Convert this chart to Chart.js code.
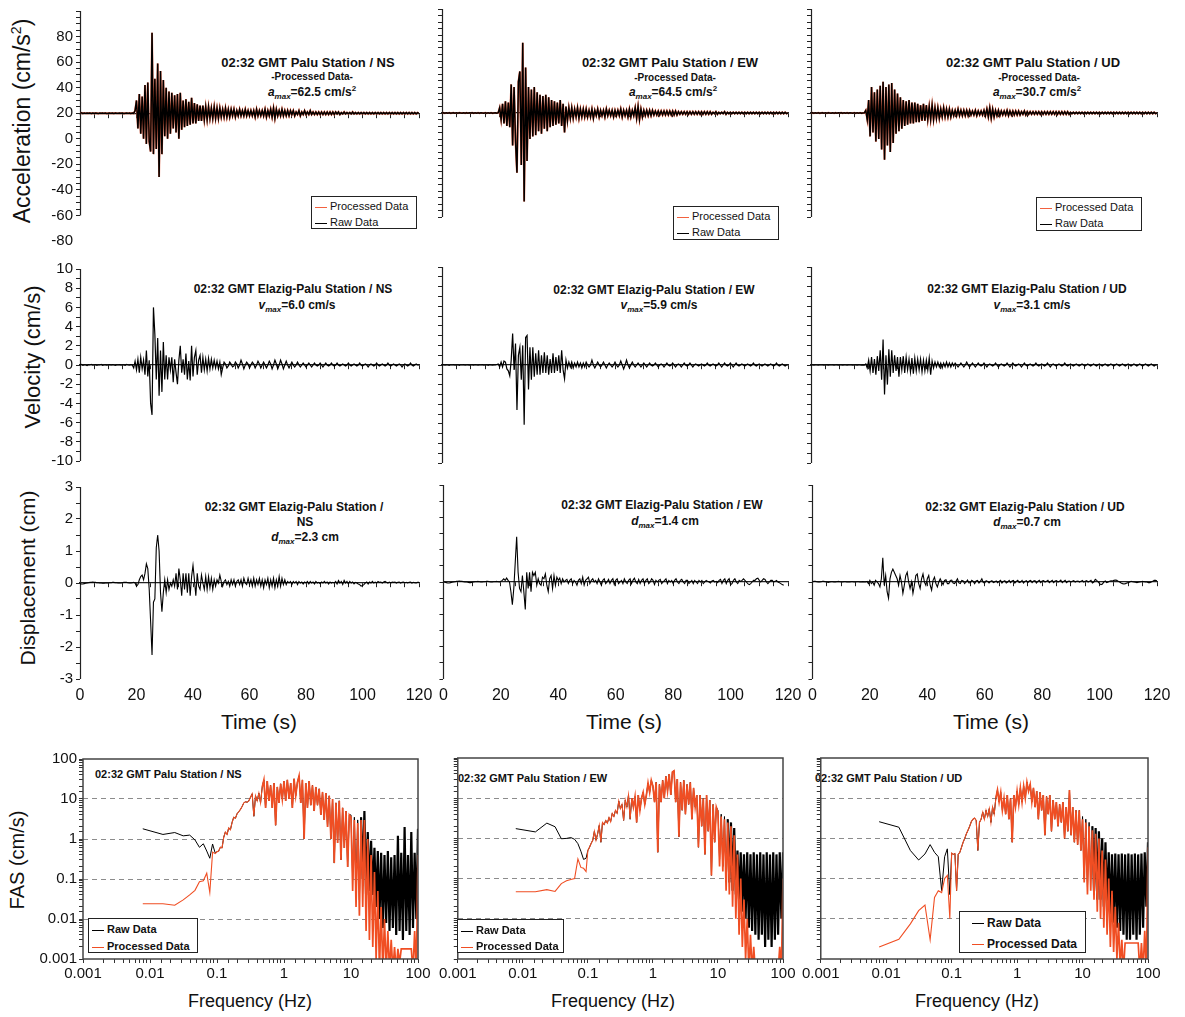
<!DOCTYPE html>
<html><head><meta charset="utf-8">
<script src="https://cdn.jsdelivr.net/npm/chart.js@4.4.1/dist/chart.umd.min.js"></script>
<style>
html,body{margin:0;padding:0;background:#fff;}
#page{position:relative;width:1185px;height:1017px;overflow:hidden;font-family:'Liberation Sans',Arial,Helvetica,sans-serif;color:#111;}
#page canvas{position:absolute;}
.t{position:absolute;white-space:nowrap;transform:translate(-50%,-50%);}
.tl{position:absolute;white-space:nowrap;transform:translateY(-50%);}
.b{font-weight:bold;}
.ax{position:absolute;white-space:nowrap;transform:translate(-50%,-50%) rotate(-90deg);}
sub,sup{font-size:8px;line-height:0;}
.lg{position:absolute;border:1px solid #222;background:#fff;box-sizing:border-box;}
.lg div{position:absolute;left:3px;white-space:nowrap;transform:translateY(-50%);}
.lg span{display:inline-block;width:12px;height:0;border-top:1.6px solid;vertical-align:middle;margin-right:3px;}
</style></head>
<body><div id="page">
<!-- axis titles -->
<div class="ax" style="left:22px;top:121px;font-size:23px">Acceleration (cm/s<sup style="font-size:14px">2</sup>)</div>
<div class="ax" style="left:33px;top:357px;font-size:22px">Velocity (cm/s)</div>
<div class="ax" style="left:28px;top:578px;font-size:21px">Displacement (cm)</div>
<div class="ax" style="left:17px;top:860px;font-size:20px">FAS (cm/s)</div>
<div class="t" style="left:259px;top:722px;font-size:21px">Time (s)</div>
<div class="t" style="left:624px;top:722px;font-size:21px">Time (s)</div>
<div class="t" style="left:991px;top:722px;font-size:21px">Time (s)</div>
<div class="t" style="left:250px;top:1001px;font-size:18px">Frequency (Hz)</div>
<div class="t" style="left:613px;top:1001px;font-size:18px">Frequency (Hz)</div>
<div class="t" style="left:977px;top:1001px;font-size:18px">Frequency (Hz)</div>
<!-- row 1 notes -->
<div class="t b" style="left:308px;top:62px;font-size:13px">02:32 GMT Palu Station / NS</div>
<div class="t b" style="left:312px;top:76px;font-size:10px">-Processed Data-</div>
<div class="t b" style="left:312px;top:92px;font-size:12px"><i>a<sub>max</sub></i>=62.5 cm/s<sup>2</sup></div>
<div class="t b" style="left:670px;top:62px;font-size:13px">02:32 GMT Palu Station / EW</div>
<div class="t b" style="left:675px;top:77px;font-size:10px">-Processed Data-</div>
<div class="t b" style="left:673px;top:92px;font-size:12px"><i>a<sub>max</sub></i>=64.5 cm/s<sup>2</sup></div>
<div class="t b" style="left:1033px;top:62px;font-size:13px">02:32 GMT Palu Station / UD</div>
<div class="t b" style="left:1039px;top:77px;font-size:10px">-Processed Data-</div>
<div class="t b" style="left:1037px;top:92px;font-size:12px"><i>a<sub>max</sub></i>=30.7 cm/s<sup>2</sup></div>
<!-- row 2 notes -->
<div class="t b" style="left:293px;top:289px;font-size:12px">02:32 GMT Elazig-Palu Station / NS</div>
<div class="t b" style="left:297px;top:305px;font-size:12px"><i>v<sub>max</sub></i>=6.0 cm/s</div>
<div class="t b" style="left:654px;top:290px;font-size:12px">02:32 GMT Elazig-Palu Station / EW</div>
<div class="t b" style="left:659px;top:305px;font-size:12px"><i>v<sub>max</sub></i>=5.9 cm/s</div>
<div class="t b" style="left:1027px;top:289px;font-size:12px">02:32 GMT Elazig-Palu Station / UD</div>
<div class="t b" style="left:1032px;top:305px;font-size:12px"><i>v<sub>max</sub></i>=3.1 cm/s</div>
<!-- row 3 notes -->
<div class="t b" style="left:294px;top:507px;font-size:12px">02:32 GMT Elazig-Palu Station /</div>
<div class="t b" style="left:305px;top:522px;font-size:12px">NS</div>
<div class="t b" style="left:305px;top:537px;font-size:12px"><i>d<sub>max</sub></i>=2.3 cm</div>
<div class="t b" style="left:662px;top:505px;font-size:12px">02:32 GMT Elazig-Palu Station / EW</div>
<div class="t b" style="left:665px;top:521px;font-size:12px"><i>d<sub>max</sub></i>=1.4 cm</div>
<div class="t b" style="left:1025px;top:507px;font-size:12px">02:32 GMT Elazig-Palu Station / UD</div>
<div class="t b" style="left:1027px;top:522px;font-size:12px"><i>d<sub>max</sub></i>=0.7 cm</div>
<!-- FAS titles -->
<div class="tl b" style="left:95px;top:774px;font-size:11px">02:32 GMT Palu Station / NS</div>
<div class="tl b" style="left:458px;top:778px;font-size:11px">02:32 GMT Palu Station / EW</div>
<div class="tl b" style="left:815px;top:778px;font-size:11px">02:32 GMT Palu Station / UD</div>
</div>
<script>
// ---------------- DATA ----------------
const timeStepS = 0.5; // sample spacing of the arrays below (s), starting at 0 s
const timeTickLabels = [0, 20, 40, 60, 80, 100, 120];

const accelNS = [
20,20.3,19.8,20.2,19.9,20.1,20,20.2,19.8,20.1,19.9,20.2,20,19.8,20.1,20,20.2,19.9,20.1,19.8,
20,20.2,19.9,20.1,19.8,20.2,20,19.9,20.1,20,20.2,19.8,20,20.1,19.9,20.2,19.8,20.1,19.9,22,
30,8,35,4,33,0,42,-4,44,-2,-10,83,-12,47,-8,59,-30,53,-12,46,
2,40,0,37,4,36,8,34,5,35,0,36,7,30,9,31,10,29,11,32,
12,28,12,27,14,26,14,26,15,25,15,25,16,24,16,25,16,24,16,24,
17,23,17,24,17,23,17,23,18,23,17,22,18,23,18,22,18,23,18,22,
18,22,18,22,17,23,18,22,18,22,18,23,17,22,18,23,17,24,16,23,
18,22,18,23,18,22,18,22,18,22,19,22,18,21,19,22,18,21,19,22,
19,21,19,22,19,21,19,21,19,21,19,21,19,21,19,21,19,21,19,21,
19,21,19.5,21,19,20.5,19.5,21,19.5,20.5,19.5,20.5,19.5,21,19.5,20.5,19.5,20.5,19.5,20.5,
19.5,20.5,19.5,20.5,19.5,20.5,19.5,20.5,19.5,20.5,19.5,20.5,19.5,20.5,19.5,20.5,19.5,20.5,19.5,20.5,
19.5,20.5,19.5,20.5,19.5,20.5,19.5,20.5,19.5,20.5,19.5,20.5,19.5,20.5,19.5,20.5,19.5,20.5,19.5,20.5,
20];
const accelEW = [
20,20.2,19.8,20.1,19.9,20.2,19.8,20,20.2,19.9,20.1,19.8,20.2,20,19.9,20.1,19.8,20.2,19.9,20.1,
20,20.2,19.8,20.1,19.9,20.2,19.8,20.1,20,19.9,20.2,19.8,20.1,19.9,20.2,19.8,20,20.1,19.9,20.2,
24,15,27,12,29,10,28,9,42,-5,40,-2,-26,44,52,-20,74,-48,55,-17,
40,0,38,2,40,3,36,6,34,4,33,8,34,6,32,9,30,10,29,11,
28,12,30,10,27,5,25,14,24,16,24,16,23,17,24,16,23,17,23,17,
23,17,22,17,23,16,22,18,23,17,22,18,22,17,23,18,22,18,22,17,
22,18,22,18,23,17,22,18,22,17,23,17,22,18,24,16,25,15,23,17,
22,18,22,18,22,18,22,18.5,21.5,18.5,21.5,18.5,21.5,18.5,21.5,18.5,21.5,18.5,21.5,18.5,
21.5,18.5,21.5,18.5,21,19,21,19,21,19,21,19,21,19,21,19,21,19,21,19,
21,19,21,19,21,19,21,19,20.5,19.5,21,19,20.5,19.5,20.5,19.5,21,19,20.5,19.5,
20.5,19.5,20.5,19.5,20.5,19.5,20.5,19.5,20.5,19.5,20.5,19.5,20.5,19.5,20.5,19.5,20.5,19.5,20.5,19.5,
20.5,19.5,20.5,19.5,20.5,19.5,20.5,19.5,20.5,19.5,20.5,19.5,20.5,19.5,20.5,19.5,20.5,19.5,20.5,19.5,
20];
const accelUD = [
20,20.2,19.8,20.1,19.9,20.2,19.8,20,20.2,19.9,20.1,19.8,20.2,20,19.9,20.1,19.8,20.2,19.9,20.1,
20,20.2,19.8,20.1,19.9,20.2,19.8,20.1,20,19.9,20.2,19.8,20.1,19.9,20.2,19.8,20,20.1,22,15,
30,2,40,5,36,-2,38,0,41,-8,44,-16,40,-5,42,-10,43,-3,38,4,
35,6,32,8,30,10,29,11,30,12,28,12,28,13,27,13,26,14,27,14,
26,15,25,15,26,15,24,16,24,16,23,17,24,17,23,17,23,17,22,18,
22,18,23,18,22,18,22,18,22,18,22,18.5,21.5,18.5,22,18,21.5,18.5,21.5,18.5,
22,18,23,17,24,16,23,17,22,18,22,18,21.5,18.5,21.5,18.5,22,18,21.5,18.5,
21.5,18.5,21.5,18.5,21.5,18.5,21,19,21.5,18.5,21,19,21,19,21,19,21,19,21,19,
21,19,21,19,21,19,21,19,21,19,21,19,21,19,21,19,21,19,21,19,
20.5,19.5,20.5,19.5,20.5,19.5,20.5,19.5,20.5,19.5,20.5,19.5,20.5,19.5,20.5,19.5,20.5,19.5,20.5,19.5,
20.5,19.5,20.5,19.5,20.5,19.5,20.5,19.5,20.5,19.5,20.5,19.5,20.5,19.5,20.5,19.5,20.5,19.5,20.5,19.5,
20.5,19.5,20.5,19.5,20.5,19.5,20.5,19.5,20.5,19.5,20.5,19.5,20.5,19.5,20.5,19.5,20.5,19.5,20.5,19.5,
20];

const velNS = [
0,0.05,-0.03,0.02,0,-0.05,0.03,0,0.05,-0.02,0,0.03,-0.04,0.02,0,0.05,-0.03,0,0.02,-0.02,
0,0.03,-0.02,0.04,0,-0.03,0.02,0,0.03,-0.02,0,0.02,-0.03,0.05,0,-0.02,0.03,0,-0.3,0.4,
-0.5,0.6,-0.8,0.8,-0.4,0.5,-1.0,1.5,-1.2,0.5,-4.0,-5.2,6.0,3.2,-1.5,2.8,-3.2,1.5,-2.8,2.4,
-1.5,1.0,-1.5,0.8,-0.5,0.8,-1.8,0.6,-0.8,-2.0,0.5,2.0,-0.8,0.6,-1.0,1.2,-1.5,0.4,-1.6,2.0,
-1.2,0.8,1.5,-1.0,0.5,1.0,-0.8,0.8,-0.5,0.6,-0.6,0.7,-0.4,0.6,-0.3,0.5,-0.3,0.4,-0.4,0.3,
-1.0,-0.3,0.3,0.1,-0.3,-0.1,0.3,0.1,-0.2,-0.1,0.3,0.1,-0.3,0,0.5,0.1,-0.4,0,0.3,0.1,
-0.3,0,0.3,0.1,-0.3,0,0.4,0.1,-0.3,0,0.3,0,-0.3,0,0.4,0.1,-0.4,0,0.5,0.1,
-0.4,0,0.5,0.1,-0.4,0,0.4,0,-0.3,0,0.3,0,-0.2,0,0.3,0,-0.2,0,0.2,0,
-0.2,0,0.2,0,-0.2,0,0.2,0,-0.1,0,0.2,0,-0.2,0,0.2,0,-0.1,0,0.2,0,
-0.1,0,0.2,0,-0.1,0,0.1,0,-0.1,0,0.2,0,-0.1,0,0.1,0,-0.1,0,0.2,0,
-0.1,0,0.1,0,-0.2,0,0.1,0,-0.1,0,0.2,0,-0.1,0,0.1,0,-0.1,0,0.2,0,
-0.1,0,0.1,0,-0.1,0,0.1,0,-0.2,0,0.1,0,-0.1,0,0.2,0,-0.1,0,0.1,0,
0];
const velEW = [
0,0.03,-0.02,0.02,0,-0.03,0.02,0,0.03,-0.02,0,0.02,-0.03,0.02,0,0.03,-0.02,0,0.02,-0.02,
0,0.02,-0.02,0.03,0,-0.02,0.02,0,0.03,-0.02,0,0.02,-0.03,0.03,0,-0.02,0.02,0,0.05,0.1,
-0.2,0.3,-0.2,0.4,0.3,-0.4,-0.6,-1.1,0.5,3.2,-0.5,2.2,-4.6,1.0,1.8,-1.5,2.0,-6.1,2.8,3.0,
-2.5,1.8,-1.5,1.8,-1.2,1.2,-1.0,1.5,-1.0,1.0,-0.8,1.3,-0.8,1.0,-1.0,0.6,-0.8,1.2,-0.8,0.8,
-0.6,1.0,-0.8,1.5,-0.5,-1.4,0.5,-0.3,0.3,-0.2,0.3,-0.3,0.2,-0.2,0.3,-0.2,0.2,-0.3,0.2,-0.2,
0.3,0,-0.2,0,0.5,0,-0.3,0,0.3,0,-0.2,0,0.3,0,-0.3,0,0.2,0,-0.2,0,
0.3,0,-0.2,0,0.4,0,-0.4,0,0.5,0,-0.3,0,0.3,0,-0.2,0,0.2,0,-0.2,0,
0.2,0,-0.2,0,0.2,0,-0.1,0,0.2,0,-0.2,0,0.1,0,-0.2,0,0.2,0,-0.1,0,
0.2,0,-0.2,0,0.1,0,-0.2,0,0.2,0,-0.1,0,0.2,0,-0.2,0,0.1,0,-0.1,0,
0.1,0,-0.1,0,0.2,0,-0.1,0,0.1,0,-0.1,0,0.2,0,-0.2,0,0.2,0,-0.1,0,
0.2,0,-0.2,0,0.2,0,-0.1,0,0.1,0,-0.1,0,0.1,0,-0.1,0,0.2,0,-0.1,0,
0.1,0,-0.1,0,0.1,0,-0.1,0,0.1,0,-0.1,0,0.2,0,-0.1,0,0.1,0,-0.1,0,
0];
const velUD = [
0,0.02,-0.02,0.02,0,-0.02,0.02,0,0.02,-0.02,0,0.02,-0.02,0.02,0,0.02,-0.02,0,0.02,-0.02,
0,0.02,-0.02,0.02,0,-0.02,0.02,0,0.02,-0.02,0,0.02,-0.02,0.02,0,-0.02,0.02,0,0.1,-0.3,
0.5,-0.6,0.8,-0.8,0.6,-1.0,0.9,-0.6,1.5,-1.5,2.6,-3.0,1.0,-2.0,1.6,-1.2,1.5,-0.8,1.0,-0.6,
0.8,-1.2,0.8,-0.5,0.9,-0.8,0.8,-0.5,0.6,-0.7,0.7,-0.9,0.7,-0.6,0.6,-0.5,0.6,-0.7,0.5,-0.6,
0.5,-0.5,0.7,-1.0,0.4,-0.3,0.3,-0.2,0.3,-0.2,0.2,-0.3,0.2,-0.2,0.3,-0.2,0.2,-0.2,0.2,-0.1,
0.2,0,-0.2,0,0.2,0,-0.2,0,0.3,0,-0.2,0,0.2,0,-0.2,0,0.2,0,-0.1,0,
0.2,0,-0.2,0,0.1,0,-0.1,0,0.2,0,-0.2,0,0.1,0,-0.1,0,0.2,0,-0.2,0,
0.2,0,-0.1,0,0.1,0,-0.2,0,0.2,0,-0.1,0,0.1,0,-0.1,0,0.2,0,-0.1,0,
0.1,0,-0.1,0,0.2,0,-0.2,0,0.1,0,-0.1,0,0.1,0,-0.1,0,0.2,0,-0.1,0,
0.1,0,-0.1,0,0.1,0,-0.1,0,0.1,0,-0.1,0,0.1,0,-0.1,0,0.1,0,-0.1,0,
0.1,0,-0.1,0,0.1,0,-0.1,0,0.1,0,-0.1,0,0.1,0,-0.1,0,0.1,0,-0.1,0,
0.1,0,-0.1,0,0.1,0,-0.1,0,0.1,0,-0.1,0,0.1,0,-0.1,0,0.1,0,-0.1,0,
0];

const dispNS = [
-0.02,-0.03,-0.03,-0.02,-0.01,0,0.01,0.02,0.02,0.03,0.02,0.02,0.01,0.01,0,0,-0.01,-0.01,0,0,
0,0.01,0.01,0.02,0.02,0.01,0.01,0,0,0,0.01,0.02,0.02,0.02,0.01,0,0,0.01,0.02,0,
-0.1,-0.05,0.1,0.2,0.25,0.1,0.3,0.6,0.45,-0.2,-1.2,-2.25,-0.6,-0.5,1.1,1.5,1.0,-0.3,-0.9,-0.3,
0.1,-0.3,0.1,-0.2,0,-0.1,0.1,-0.1,0.3,-0.2,0.45,0.1,-0.4,0.3,-0.2,0.3,-0.3,0.3,-0.4,0.2,
0.55,0.1,-0.4,0.3,-0.1,-0.2,0.25,0,-0.2,0.2,-0.2,0.2,-0.15,0.15,-0.2,0.1,-0.1,0.1,0,0.25,
0.05,-0.1,0.05,0.1,-0.05,0.05,-0.1,0.1,-0.05,0.1,-0.1,0.05,0.1,-0.05,0.1,-0.1,0.15,0,-0.05,0.15,
-0.05,0.1,-0.1,0.15,-0.1,0.1,-0.05,0.15,-0.1,0.1,-0.15,0.1,-0.05,0.15,-0.15,0.1,-0.1,0.15,-0.15,0.1,
-0.1,0.2,-0.1,0.15,-0.05,0.1,-0.05,0.05,0,0.05,-0.05,0.05,0,0.05,-0.05,0.05,0,0.03,-0.03,0.03,
0,0.05,-0.03,0.05,0,0.03,-0.03,0.05,0,0.02,-0.02,0.03,0,0.05,0,0.03,-0.03,0.03,0,0.02,
0,0.05,-0.03,0.08,0,0.05,-0.05,0.08,0,0.05,-0.03,0.05,0,0.03,-0.03,0.02,0,-0.03,-0.05,-0.1,
-0.08,-0.05,0,0.03,-0.03,0.03,0,0.05,0,0.03,0,0.05,0.02,0.03,0,0.03,0.05,0.02,0,0.03,
0,0.03,0.02,0.03,0,0.02,0.03,0,0.02,0.03,0.01,0.02,0,0.02,0.03,0,0.02,0.01,0,0.02,
0.02];
const dispEW = [
0,-0.01,-0.02,-0.03,-0.03,-0.02,-0.01,0,0.01,0.02,0.02,0.03,0.02,0.02,0.01,0,0,-0.01,-0.02,-0.02,
-0.01,0,0.01,0.01,0.02,0.01,0,0,0.01,0.01,0.02,0.02,0.01,0,0,0.01,0.01,0.02,0.01,0,
0.02,0.05,0.1,0.05,0.12,0.05,0,-0.3,-0.7,-0.2,0.6,1.4,0.3,-0.2,-0.3,0.2,-0.3,-0.85,0.3,-0.2,
0.3,-0.3,0.3,0.2,0.3,-0.1,0.1,-0.05,-0.1,0.15,0.1,0.25,-0.1,-0.3,0.1,0.2,-0.2,0.2,-0.1,0.15,
0.05,0.12,-0.05,0.1,0,0.05,0.08,-0.05,0.05,0.1,-0.05,0.05,0,-0.1,0.05,0.1,-0.05,0.15,-0.1,0.05,
0.1,0.15,-0.05,0.05,0.1,0,0.05,-0.05,0.1,0,-0.1,0.05,0.1,-0.05,0,0.08,-0.05,0.05,0.1,-0.08,
0.05,0.1,-0.05,0,0.05,-0.05,0.1,0,-0.05,0.05,0.1,-0.05,0.05,0.12,0,-0.05,0.08,-0.05,0.05,0.1,
-0.05,0.05,0.1,-0.05,0,0.1,0.05,-0.08,0.05,0,0.05,0.08,-0.05,0,0.05,0.1,-0.05,0.05,0,0.05,
-0.05,0.05,0.1,0,-0.05,0.05,0.08,0,-0.05,0.05,0.05,-0.05,0,0.05,-0.05,0.05,0,-0.05,0.05,0,
0.05,-0.05,0,0.05,0.02,0,-0.03,0.03,0.05,0,0.02,-0.02,0.05,0.08,-0.05,0.05,0.1,-0.05,0.05,0.1,
-0.08,-0.05,0.05,0.1,0,-0.05,0.05,0.02,0.05,0.1,0.05,0,-0.05,-0.08,-0.05,0,0.05,0.05,0.1,0.12,
0.05,0,0.05,0.1,0.08,0,-0.05,0,0.05,0.05,0,0.02,0.05,0,-0.02,-0.05,-0.08,-0.1,null,null,
null];
const dispUD = [
0,0.02,0.02,0.01,0,0,0.01,0.02,0.02,0.01,0,-0.01,0,0.01,0.01,0,0,0.01,0.02,0.01,
0,0,0.01,0.01,0,0,0,0.01,0.01,0,0,0.01,0.01,0,0,0.01,0,0,0.02,-0.05,
0.05,-0.05,0,-0.1,0.05,0,-0.05,-0.15,0.1,0.75,-0.1,0.2,-0.3,-0.5,0.1,0.3,0.4,0.3,0.2,0.1,
-0.1,0.2,0,-0.35,-0.1,0.2,0.3,0,-0.2,0,-0.35,-0.1,0.2,0.25,-0.05,-0.2,0.1,0.25,0,-0.1,
0.1,0.2,-0.1,-0.25,0.05,0.15,-0.05,-0.15,0,0.1,0,-0.08,0.05,0.07,-0.05,-0.05,0.05,0.06,-0.03,-0.05,
0.02,0.1,-0.03,-0.05,0.05,0.03,-0.05,0,0.06,-0.03,-0.02,0.05,0.02,-0.05,0.03,0.05,-0.03,0.02,0.1,-0.02,
-0.03,0.04,0.02,-0.03,0.02,0.04,-0.02,0,0.03,-0.02,0.02,0.05,-0.03,0.02,0.04,-0.03,0,0.05,-0.02,0.03,
0.05,-0.03,0.02,0.05,-0.02,0,0.05,-0.03,0.02,0.04,-0.02,0.03,0.05,-0.02,0.03,0.04,-0.03,0.02,0.05,-0.02,
0.03,0.04,0,0.02,0.05,-0.02,0.02,0.05,-0.02,0.03,0.04,0,0.02,0.06,-0.02,0.02,0.05,-0.02,0.02,0.03,
0,0.02,0.04,0,0.02,0.03,0,0.02,0.05,0,0.02,0.04,0,0.02,0.05,-0.03,0,0.08,0.05,0,
-0.05,-0.08,-0.06,0,0.03,-0.02,0,0.02,0.04,0.03,0.05,0.06,0.05,0.02,0,-0.03,-0.05,-0.06,-0.05,-0.03,
-0.02,0,0.02,0.01,0,-0.01,-0.02,-0.01,0,0.01,0.02,0.01,0,0,-0.02,-0.02,0,0.02,0.05,0.05,
0.04];

// Fourier amplitude spectra: frequency grid (Hz)
const fasLowHz = [0.0078,0.0156,0.0234,0.0313,0.0391,0.0469,0.0547,0.0625,0.0703,0.0781,0.0859,0.0938];
const fasMantissa = [1.000,1.059,1.122,1.189,1.259,1.334,1.413,1.496,1.585,1.679,1.778,1.884,1.995,2.113,2.239,2.371,2.512,2.661,2.818,2.985,3.162,3.350,3.548,3.758,3.981,4.217,4.467,4.732,5.012,5.309,5.623,5.957,6.310,6.683,7.079,7.499,7.943,8.414,8.913,9.441];
const fasDecadesHz = [0.1, 1, 10];
const fasTopHz = [100];
const fasTickLabels = ['0.001','0.01','0.1','1','10','100'];

// NS
const fasLowRawNS  = [1.8,1.3,1.45,1.2,1.25,0.95,0.62,0.76,0.5,0.33,0.75,0.45];
const fasLowProcNS = [0.024,0.024,0.022,0.03,0.04,0.052,0.085,0.09,0.14,0.046,0.47,0.43];
const fasMidNS = [
0.48,0.5,0.62,0.6,1.1,1.5,1.3,1.9,1.7,2.6, 3.5,3.3,4.3,4.8,5.5,6.5,8.0,8.5,8.3,9.0,
11,13.5,3.7,12,9,14,8,20,30,6, 28,9,22,6,25,2.2,20,8,24,10,
28,9,30,10,25,6,32,12,26,38, 8,30,1.0,25,6,28,7,22,5,20,
7,18,4,15,3,14,2,12,1.0,10, 0.25,8,0.8,9,0.3,6,0.6,5,0.2,4];
const fasHighRawNS = [
4,0.1,3.5,0.08,3,0.03,3.5,0.1,5,0.04, 1.5,0.05,0.9,0.04,0.6,0.02,0.5,0.01,0.45,0.006,
0.4,0.008,0.5,0.005,0.35,0.006,0.4,0.004,1.2,0.005, 0.45,0.003,2.0,0.005,0.4,0.004,1.5,0.006,0.45,0.01,
1.8];
const fasHighProcNS = [
3.5,0.05,3,0.02,2.5,0.012,3,0.02,3,0.005, 1.0,0.003,0.4,0.002,0.15,0.001,0.05,0.0005,0.02,0.0005,
0.01,0.0005,0.005,0.0005,0.003,0.0005,0.002,0.0005,0.0018,0.0008, 0.0018,0.0018,0.0018,0.0018,0.0018,0.0018,0.0018,0.0005,0.005,0.0005,
0.4];
// EW
const fasLowRawEW  = [1.75,1.45,2.4,1.95,0.98,1.0,1.05,0.95,0.74,0.48,0.3,0.32];
const fasLowProcEW = [0.047,0.047,0.053,0.048,0.075,0.088,0.095,0.1,0.31,0.19,0.18,0.15];
const fasMidEW = [
0.5,0.6,0.75,0.9,1.5,0.9,1.3,2.1,0.8,2.5, 2.2,2.8,2.4,3.3,2.6,4.2,3.5,5,4.2,8.5,
5.5,7,2.8,9,6,12,3,10,6,11, 2.5,12,5,10,14,7,12,24,14,28,
20,8,25,0.45,22,8,28,10,35,15, 40,12,45,48,8,30,1.1,25,5,28,
4,22,7,25,3,18,6,12,0.6,12, 2,10,0.4,12,1.5,9,0.12,7,0.8,6];
const fasHighRawEW = [
5,0.3,4,0.2,3.5,0.1,3,0.08,2.5,0.05, 1.8,0.04,0.5,0.03,0.45,0.015,0.4,0.01,0.45,0.006,
0.4,0.005,0.45,0.004,0.4,0.003,0.45,0.004,0.4,0.002, 0.45,0.003,0.4,0.002,0.45,0.003,0.4,0.004,0.45,0.01,
0.45];
const fasHighProcEW = [
4.5,0.2,3.5,0.15,3,0.05,2.5,0.04,2,0.02, 1.2,0.01,0.4,0.004,0.1,0.002,0.03,0.001,0.01,0.0005,
0.004,0.0005,0.002,0.0005,0.0005,0.0005,0.0005,0.0005,0.0005,0.0005, 0.0005,0.0005,0.0005,0.0005,0.0005,0.0005,0.0005,0.0005,0.002,0.0005,
0.1];
// UD
const fasLowRawUD  = [2.6,1.9,0.5,0.29,0.41,0.7,0.45,0.35,0.05,0.35,0.55,0.04];
const fasLowProcUD = [0.002,0.0031,0.0075,0.016,0.022,0.003,0.034,0.05,0.045,0.1,0.12,0.01];
const fasMidUD = [
0.43,0.4,0.42,0.05,0.4,0.45,0.6,0.8,1.0,1.3, 1.6,2.0,2.6,3.0,3.2,2.8,0.5,2.5,3.0,4.5,
3,5,3.5,5.5,2.5,6,4,10,16,8, 14,5,10,4,12,3,10,0.8,12,6,
15,7,18,8,20,10,25,15,22,8, 18,6,15,3,14,5,12,1.2,11,4,
12,1.5,9,3,8,2,7,2.5,8,1.0, 6,1.5,16,1.2,6,0.8,5,0.7,5,0.5];
const fasHighRawUD = [
3.5,0.1,3,0.06,2.5,0.1,2,0.05,1.8,0.03, 1.5,0.03,1.0,0.02,0.8,0.015,0.45,0.01,0.4,0.008,
0.42,0.006,0.4,0.005,0.42,0.004,0.4,0.003,0.42,0.003, 0.4,0.004,0.42,0.003,0.4,0.004,0.42,0.006,0.45,0.02,
0.8];
const fasHighProcUD = [
3,0.08,2.5,0.04,2,0.05,1.6,0.03,1.3,0.015, 1,0.01,0.5,0.006,0.3,0.004,0.1,0.002,0.05,0.0015,
0.02,0.001,0.008,0.0006,0.003,0.0005,0.0025,0.0025,0.0025,0.0025, 0.0025,0.0025,0.0025,0.0025,0.0025,0.0005,0.0025,0.0005,0.005,0.0005,
0.6];

// ---------------- STYLE / LAYOUT ----------------
const FONT = "'Liberation Sans', Arial, Helvetica, sans-serif";
Chart.defaults.font.family = FONT;
Chart.defaults.color = '#111';
const ORANGE = '#F04E23';
const ORANGE_LIGHT = '#F2613F';
const COLS = [{l:80,r:419},{l:442,r:788},{l:811,r:1157}];
const FAS_COLS = [{l:83,r:418},{l:447,r:783},{l:810,r:1148}];
const ROWS = {acc:{t:9,b:243}, vel:{t:267,b:463}, dis:{t:485,b:679}, fas:{t:758,b:959}};
const page = document.getElementById('page');

const fasHz = fasLowHz.concat(...fasDecadesHz.map(d => fasMantissa.map(m => m * d)), fasTopHz);
const asTime = vals => vals.map((v, i) => ({x: i * timeStepS, y: v}));
const asFreq = vals => vals.map((v, i) => ({x: fasHz[i], y: v}));

function makeCanvas(plot, pad) {
  const cv = document.createElement('canvas');
  const w = plot.r - plot.l + pad.l + pad.r, h = plot.b - plot.t + pad.t + pad.b;
  cv.width = w; cv.height = h;
  cv.style.left = (plot.l - pad.l) + 'px'; cv.style.top = (plot.t - pad.t) + 'px';
  cv.style.width = w + 'px'; cv.style.height = h + 'px';
  page.appendChild(cv);
  return cv;
}

const yAxisLine = {
  id: 'yAxisLine',
  beforeDatasetsDraw(chart, args, o) {
    const y = chart.scales.y, ctx = chart.ctx, x = Math.round(chart.chartArea.left) + 0.5;
    ctx.save(); ctx.strokeStyle = '#222'; ctx.lineWidth = 1.2;
    ctx.beginPath(); ctx.moveTo(x, y.getPixelForValue(o.from)); ctx.lineTo(x, y.getPixelForValue(o.to)); ctx.stroke();
    ctx.restore();
  }
};
const frame = {
  id: 'frame',
  afterDatasetsDraw(chart) {
    const a = chart.chartArea, ctx = chart.ctx;
    ctx.save(); ctx.strokeStyle = '#444'; ctx.lineWidth = 1.5;
    ctx.strokeRect(a.left, a.top, a.right - a.left, a.bottom - a.top); ctx.restore();
  }
};

function baseOptions(pad, bottomAxis) {
  return {
    responsive: false, animation: false, devicePixelRatio: 1, events: [],
    layout: {autoPadding: false, padding: {left: 0, top: pad.t, right: pad.r, bottom: bottomAxis ? 0 : pad.b}},
    plugins: {legend: {display: false}, tooltip: {enabled: false}},
    elements: {point: {radius: 0}, line: {tension: 0}}
  };
}

function timePanel(col, row, spec) {
  const plot = {l: COLS[col].l, r: COLS[col].r, t: ROWS[row].t, b: ROWS[row].b};
  const pad = {l: col === 0 ? 70 : 10, r: 22, t: 10, b: spec.bottomLabels ? 34 : 10};
  const cv = makeCanvas(plot, pad);
  const opts = baseOptions(pad, spec.bottomLabels);
  opts.scales = {
    x: {type: 'linear', min: 0, max: 120, position: {y: spec.base},
        ticks: {display: false, stepSize: 5},
        grid: {drawOnChartArea: false, tickLength: 4, color: '#222'},
        border: {display: true, color: '#222', width: 1.2}},
    y: {type: 'linear', min: spec.min, max: spec.max, position: 'left',
        afterFit: s => { s.width = pad.l; },
        ticks: {display: col === 0, stepSize: spec.step, autoSkip: false, padding: 3, font: {size: 15}, color: '#111',
                callback: v => spec.label(v) ? String(v) : ''},
        grid: {drawOnChartArea: false, tickLength: 4,
               color: c => (c.tick && c.tick.value < spec.stop - 1e-9) ? 'rgba(0,0,0,0)' : '#222'},
        border: {display: false}}
  };
  if (spec.bottomLabels) {
    opts.scales.xb = {type: 'linear', min: 0, max: 120, position: 'bottom',
      afterFit: s => { s.height = pad.b; },
      afterBuildTicks: s => { s.ticks = timeTickLabels.map(v => ({value: v})); },
      ticks: {autoSkip: false, maxRotation: 0, padding: 7, font: {size: 16}, color: '#111'},
      grid: {display: false, drawTicks: false}, border: {display: false}};
  }
  opts.plugins.yAxisLine = {from: spec.max, to: spec.stop};
  new Chart(cv, {
    type: 'line',
    data: {datasets: spec.series.map(s => ({data: asTime(s.values), borderColor: s.color, borderWidth: s.width,
      borderJoinStyle: 'miter', pointRadius: 0, fill: false, spanGaps: false}))},
    options: opts,
    plugins: [yAxisLine]
  });
}

const isDecade = v => Math.abs(Math.log10(v) - Math.round(Math.log10(v))) < 1e-6;
const decadeLabel = v => fasTickLabels[Math.round(Math.log10(v)) + 3];

function fasPanel(col, raw, proc) {
  const plot = {l: FAS_COLS[col].l, r: FAS_COLS[col].r, t: ROWS.fas.t, b: ROWS.fas.b};
  const pad = {l: col === 0 ? 70 : 10, r: 24, t: 10, b: 28};
  const cv = makeCanvas(plot, pad);
  const opts = baseOptions(pad, true);
  opts.scales = {
    x: {type: 'logarithmic', min: 0.001, max: 100, position: 'bottom',
        afterFit: s => { s.height = pad.b; },
        ticks: {autoSkip: false, maxRotation: 0, padding: 2, font: {size: 15}, color: '#111',
                callback: v => isDecade(v) ? decadeLabel(v) : ''},
        grid: {drawOnChartArea: false, tickLength: 4, color: '#333'},
        border: {display: false}},
    y: {type: 'logarithmic', min: 0.001, max: 100, position: 'left',
        afterFit: s => { s.width = pad.l; },
        ticks: {display: col === 0, autoSkip: false, padding: 2, font: {size: 15}, color: '#111',
                callback: v => isDecade(v) ? decadeLabel(v) : ''},
        grid: {drawOnChartArea: true, tickLength: 4, lineWidth: 1, tickColor: '#333',
               color: c => (c.tick && isDecade(c.tick.value) && c.tick.value > 0.0011 && c.tick.value < 99) ? '#8c8c8c' : 'rgba(0,0,0,0)'},
        border: {display: false, dash: [5, 4]}}
  };
  // denser-looking strokes where the spectrum is a fast-oscillating band
  const denseWidth = (thin, thick, fromHz) => ({borderWidth: c => c.p0.parsed.x >= fromHz ? thick : thin});
  new Chart(cv, {
    type: 'line',
    data: {datasets: [
      {data: asFreq(proc), borderColor: ORANGE, borderWidth: 1.1, pointRadius: 0, fill: false, segment: denseWidth(1.1, 1.7, 0.45)},
      {data: asFreq(raw), borderColor: '#000', borderWidth: 1, pointRadius: 0, fill: false, segment: denseWidth(1, 2.2, 14)}
    ]},
    options: opts,
    plugins: [frame]
  });
}

// acceleration
const accSpec = vals => ({base: 20, min: -80, max: 100, step: 5, stop: -60,
  label: v => v % 20 === 0 && v !== 100,
  series: [{values: vals, color: '#000', width: 1.5}, {values: vals, color: ORANGE_LIGHT, width: 1.9}]});
timePanel(0, 'acc', accSpec(accelNS));
timePanel(1, 'acc', accSpec(accelEW));
timePanel(2, 'acc', accSpec(accelUD));
// velocity
const velSpec = vals => ({base: 0, min: -10, max: 10, step: 1, stop: -10, label: v => v % 2 === 0,
  series: [{values: vals, color: '#000', width: 1.2}]});
timePanel(0, 'vel', velSpec(velNS));
timePanel(1, 'vel', velSpec(velEW));
timePanel(2, 'vel', velSpec(velUD));
// displacement
const disSpec = vals => ({base: 0, min: -3, max: 3, step: 0.5, stop: -3, label: v => Number.isInteger(v), bottomLabels: true,
  series: [{values: vals, color: '#000', width: 1.1}]});
timePanel(0, 'dis', disSpec(dispNS));
timePanel(1, 'dis', disSpec(dispEW));
timePanel(2, 'dis', disSpec(dispUD));
// FAS
fasPanel(0, fasLowRawNS.concat(fasMidNS, fasHighRawNS), fasLowProcNS.concat(fasMidNS, fasHighProcNS));
fasPanel(1, fasLowRawEW.concat(fasMidEW, fasHighRawEW), fasLowProcEW.concat(fasMidEW, fasHighProcEW));
fasPanel(2, fasLowRawUD.concat(fasMidUD, fasHighRawUD), fasLowProcUD.concat(fasMidUD, fasHighProcUD));

// legends (HTML, above canvases)
function legend(box, rows, fontCss) {
  const d = document.createElement('div');
  d.className = 'lg';
  d.style.cssText = `left:${box.l}px;top:${box.t}px;width:${box.w}px;height:${box.h}px;${fontCss}`;
  rows.forEach(r => {
    const e = document.createElement('div');
    e.style.top = r.y + 'px';
    if (r.x) e.style.left = r.x + 'px';
    e.innerHTML = `<span style="border-top-color:${r.color}"></span>${r.text}`;
    d.appendChild(e);
  });
  page.appendChild(d);
}
const accLegendRows = [{text: 'Processed Data', color: ORANGE_LIGHT, y: 9}, {text: 'Raw Data', color: '#000', y: 25}];
legend({l: 311, t: 196, w: 106, h: 33}, accLegendRows, 'font-size:11px;');
legend({l: 673, t: 206, w: 106, h: 34}, accLegendRows, 'font-size:11px;');
legend({l: 1036, t: 197, w: 106, h: 34}, accLegendRows, 'font-size:11px;');
legend({l: 88, t: 918, w: 110, h: 35}, [{text: 'Raw Data', color: '#000', y: 10}, {text: 'Processed Data', color: ORANGE, y: 27}], 'font-size:11px;font-weight:bold;');
legend({l: 457, t: 919, w: 107, h: 34}, [{text: 'Raw Data', color: '#000', y: 10}, {text: 'Processed Data', color: ORANGE, y: 26}], 'font-size:11px;font-weight:bold;');
legend({l: 959, t: 911, w: 127, h: 42}, [{text: 'Raw Data', color: '#000', y: 11, x: 12}, {text: 'Processed Data', color: ORANGE, y: 32, x: 12}], 'font-size:12px;font-weight:bold;');
</script>
</body></html>
